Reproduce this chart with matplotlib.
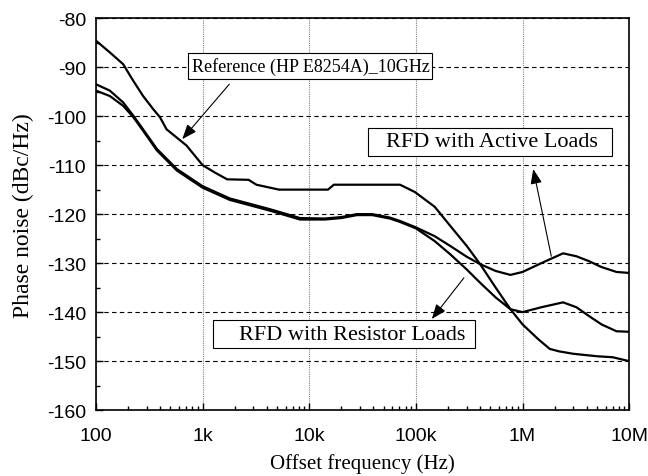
import numpy as np
import matplotlib
matplotlib.use('Agg')
import matplotlib.pyplot as plt
from matplotlib.patches import Rectangle
from matplotlib.ticker import FixedLocator, MultipleLocator, LogLocator, NullFormatter

plt.rcParams['axes.unicode_minus'] = False

# data (offset frequency in Hz, phase noise in dBc/Hz)
ref_f = [100, 135, 180, 224, 277, 345, 398, 460, 707, 1000, 1300, 1700, 2700, 3200, 5200, 15000,
         17000, 30000, 71000, 98000, 150000, 210000, 300000, 400000, 560000, 770000, 1000000,
         1400000, 1800000, 2200000, 3000000, 5000000, 7000000, 10000000]
ref_pn = [-84.6, -87, -89.4, -92.8, -95.9, -98.6, -100.2, -102.7, -106, -110, -111.5, -112.9, -113,
          -114, -115, -115, -114, -114, -114, -115.5, -118.5, -122.4, -126.5, -130.2, -135, -139.4,
          -142.5, -145.5, -147.5, -148, -148.5, -149, -149.2, -150]

act_f = [100, 135, 180, 224, 277, 373, 574, 1000, 1800, 4300, 8200, 14000, 20000, 28000, 39000,
         57000, 71000, 100000, 150000, 210000, 300000, 400000, 560000, 770000, 1000000, 1500000,
         2400000, 3200000, 4200000, 5500000, 7600000, 10000000]
act_pn = [-93.5, -94.8, -97.2, -99.9, -102.7, -106.7, -110.8, -114.3, -116.8, -119, -120.8, -120.9,
          -120.6, -120, -120, -120.7, -121.4, -122.7, -124.5, -126.5, -128.7, -130.2, -131.6, -132.4,
          -131.8, -130, -128, -128.6, -129.6, -130.8, -131.8, -132]

res_f = [100, 135, 180, 224, 277, 373, 574, 1000, 1800, 4300, 8200, 14000, 20000, 28000, 39000,
         57000, 71000, 100000, 150000, 210000, 300000, 400000, 560000, 770000, 1000000, 1500000,
         2400000, 3200000, 4200000, 5500000, 7600000, 10000000]
res_pn = [-94.8, -95.9, -97.9, -100.2, -103, -107, -111.1, -114.6, -117.1, -119.3, -121.1, -121.1,
          -120.8, -120.2, -120.2, -120.9, -121.6, -122.9, -125.5, -128.2, -131.3, -134, -137, -139.4,
          -140, -139, -138, -139, -140.8, -142.5, -143.9, -144]

xticks = [1e2, 1e3, 1e4, 1e5, 1e6, 1e7]
xlabels = ['100', '1k', '10k', '100k', '1M', '10M']

serif = 'Liberation Serif'
sans = 'Liberation Sans'

fig = plt.figure(figsize=(6.48, 4.77), dpi=100)
ax = fig.add_axes([0.148, 0.138, 0.823, 0.822])

ax.plot(ref_f, ref_pn, color='black', lw=1.6)
ax.plot(act_f, act_pn, color='black', lw=1.6)
ax.plot(res_f, res_pn, color='black', lw=1.6)

ax.set_xscale('log')
ax.set_xlim(100, 1e7)
ax.set_ylim(-160, -80)

ax.xaxis.set_major_locator(FixedLocator(xticks))
ax.set_xticklabels(xlabels, fontfamily=sans, fontsize=14)
ax.xaxis.set_minor_locator(LogLocator(base=10, subs=np.arange(2, 10)))
ax.xaxis.set_minor_formatter(NullFormatter())
ax.yaxis.set_major_locator(MultipleLocator(10))
ax.yaxis.set_minor_locator(MultipleLocator(5))
for lab in ax.get_yticklabels():
    lab.set_fontfamily(sans)
    lab.set_fontsize(14)

ax.tick_params(which='major', direction='in', length=5, width=1, top=False, right=False)
ax.tick_params(which='minor', direction='in', length=3, width=1, top=False, right=False)
ax.tick_params(axis='x', pad=12)
ax.tick_params(axis='y', pad=7)
for s in ax.spines.values():
    s.set_linewidth(1.2)

ax.grid(axis='y', which='major', linestyle=(0, (4, 3)), color='black', lw=0.8)
ax.grid(axis='x', which='major', linestyle=(0, (1, 1)), color='gray', lw=0.8)

ax.set_xlabel('Offset frequency (Hz)', fontfamily=serif, fontsize=15, labelpad=7)
ax.set_ylabel('Phase noise (dBc/Hz)', fontfamily=serif, fontsize=17, labelpad=9)

arrow = dict(arrowstyle='-|>,head_length=0.9,head_width=0.35', color='black', lw=0.8,
             shrinkA=0, shrinkB=0)

# label boxes in axes fraction: (x0, y0, w, h), text centre
boxes = [((0.173, 0.844, 0.457, 0.067), (0.403, 0.878), 'Reference (HP E8254A)_10GHz', 13),
         ((0.510, 0.648, 0.458, 0.071), (0.743, 0.684), 'RFD with Active Loads', 16),
         ((0.220, 0.158, 0.491, 0.072), (0.480, 0.194), 'RFD with Resistor Loads', 16)]
for (x0, y0, w, h), (tx, ty), txt, fs in boxes:
    ax.add_patch(Rectangle((x0, y0), w, h, transform=ax.transAxes, fc='white', ec='black',
                           lw=0.8, zorder=4))
    ax.text(tx, ty, txt, transform=ax.transAxes, fontfamily=serif, fontsize=fs,
            ha='center', va='center', zorder=5)

ax.annotate('', xy=(645, -104.7), xytext=(1780, -93.5), arrowprops=arrow)
ax.annotate('', xy=(1.26e6, -110.8), xytext=(1.86e6, -128.6), arrowprops=arrow)
ax.annotate('', xy=(1.41e5, -141.4), xytext=(2.82e5, -133), arrowprops=arrow)

fig.savefig('out.png', dpi=100)
